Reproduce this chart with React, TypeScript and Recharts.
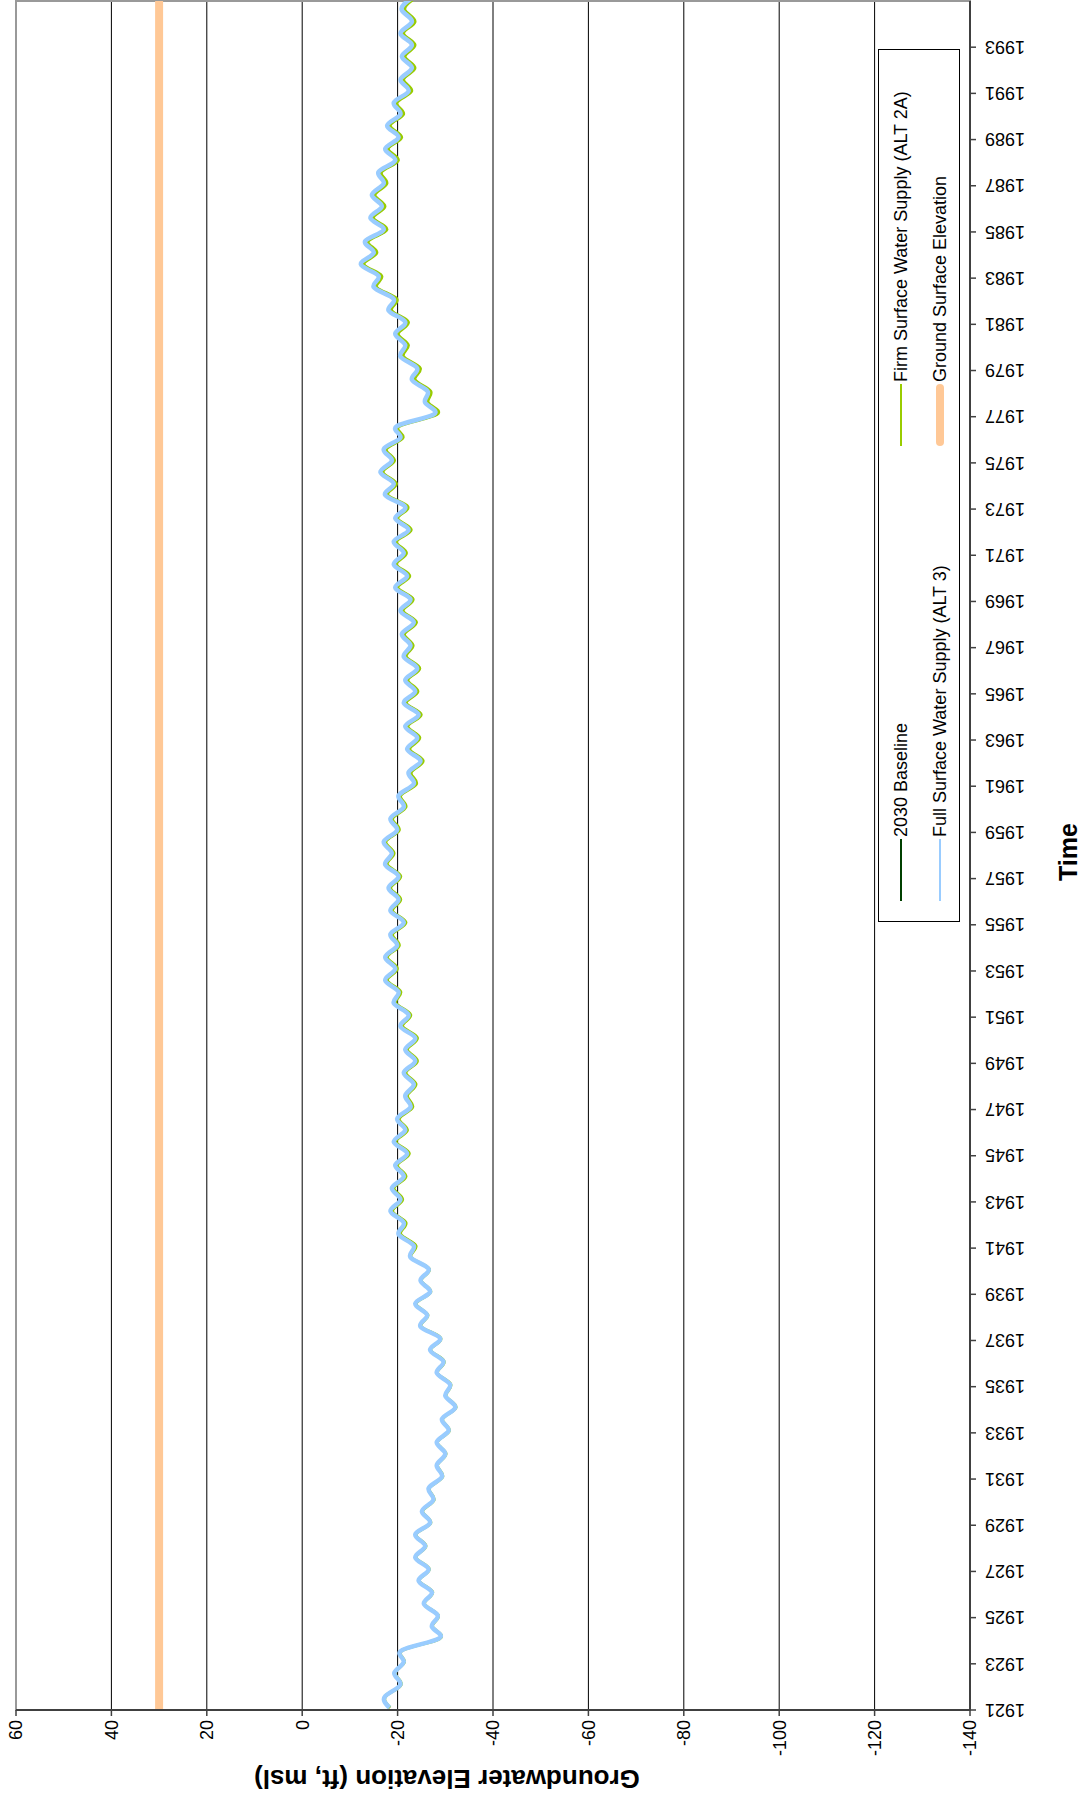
import { LineChart, Line, XAxis, YAxis, CartesianGrid, Legend, ReferenceArea } from 'recharts'

const FONT = '"Liberation Sans", Arial, sans-serif'

// water years, a fall low and a spring high each year
const years = Array.from({ length: 75 }, (_, i) => 1921 + i)
const LOW_AT = 0.1
const HIGH_AT = 0.6

const tickYears = [
  1921, 1923, 1925, 1927, 1929, 1931, 1933, 1935, 1937, 1939, 1941, 1943, 1945, 1947, 1949, 1951, 1953,
  1955, 1957, 1959, 1961, 1963, 1965, 1967, 1969, 1971, 1973, 1975, 1977, 1979, 1981, 1983, 1985, 1987,
  1989, 1991, 1993,
]
const elevationTicks = [60, 40, 20, 0, -20, -40, -60, -80, -100, -120, -140]
const groundSurface = 30

// Full Surface Water Supply (ALT 3)
const fullLow = [
  -18.3, -20.6, -21.3, -28.7, -28.4, -27.2, -26.5, -25.8, -26.8, -27.5,
  -29.3, -30.0, -30.7, -32.1, -31.0, -29.6, -28.9, -26.2, -26.8, -26.5,
  -23.4, -21.3, -20.6, -21.3, -22.0, -21.6, -22.7, -23.4, -23.7, -23.7,
  -22.3, -20.2, -19.5, -19.9, -21.3, -20.2, -20.2, -18.8, -19.9, -21.3,
  -23.4, -24.8, -24.1, -24.4, -23.7, -24.1, -22.7, -23.4, -22.7, -22.0,
  -21.3, -22.3, -21.6, -19.2, -18.8, -20.6, -27.6, -26.3, -24.1, -21.6,
  -21.6, -19.2, -16.0, -15.0, -17.1, -16.7, -17.1, -19.5, -20.2, -20.6,
  -22.3, -23.0, -23.0, -23.0, -22.8,
]
const fullHigh = [
  -17.4, -19.3, -21.0, -27.2, -25.5, -24.4, -23.7, -23.7, -25.1, -26.5,
  -28.2, -28.2, -29.3, -30.0, -28.2, -26.8, -24.8, -23.7, -24.8, -22.7,
  -20.2, -18.5, -18.8, -19.5, -19.2, -19.9, -21.6, -21.3, -21.6, -20.6,
  -19.2, -17.4, -17.4, -18.5, -18.5, -18.1, -17.4, -17.1, -18.5, -20.2,
  -22.3, -22.0, -21.6, -21.3, -21.6, -21.3, -20.9, -20.6, -19.5, -19.2,
  -19.2, -19.5, -17.4, -16.4, -17.1, -19.9, -25.8, -23.0, -20.6, -19.5,
  -18.1, -15.0, -12.3, -13.2, -14.3, -14.6, -16.0, -17.4, -17.8, -19.2,
  -20.6, -20.9, -20.6, -20.9,
]

// Firm Surface Water Supply (ALT 2A)
const firmLow = [
  -18.4, -20.7, -21.4, -28.8, -28.5, -27.3, -26.6, -25.9, -26.9, -27.6,
  -29.4, -30.1, -30.8, -32.2, -31.1, -29.7, -29.0, -26.3, -26.9, -26.6,
  -23.8, -21.7, -21.0, -21.7, -22.4, -22.0, -23.1, -23.8, -24.1, -24.1,
  -22.7, -20.6, -19.9, -20.3, -21.7, -20.6, -20.6, -19.2, -20.3, -21.7,
  -23.9, -25.3, -24.6, -24.9, -24.2, -24.6, -23.2, -23.9, -23.2, -22.5,
  -21.8, -22.8, -22.1, -19.7, -19.3, -21.1, -28.2, -26.9, -24.7, -22.2,
  -22.2, -19.8, -16.6, -15.6, -17.7, -17.3, -17.7, -20.1, -20.8, -21.2,
  -22.9, -23.6, -23.6, -23.6, -23.4,
]
const firmHigh = [
  -17.5, -19.4, -21.1, -27.3, -25.6, -24.5, -23.8, -23.8, -25.2, -26.6,
  -28.3, -28.3, -29.4, -30.1, -28.3, -26.9, -24.9, -23.8, -24.9, -22.8,
  -20.6, -18.9, -19.2, -19.9, -19.6, -20.3, -22.0, -21.7, -22.0, -21.0,
  -19.6, -17.8, -17.8, -18.9, -18.9, -18.5, -17.8, -17.5, -18.9, -20.6,
  -22.8, -22.5, -22.1, -21.8, -22.1, -21.8, -21.4, -21.1, -20.0, -19.7,
  -19.7, -20.0, -17.9, -16.9, -17.6, -20.4, -26.4, -23.6, -21.2, -20.1,
  -18.7, -15.6, -12.9, -13.8, -14.9, -15.2, -16.6, -18.0, -18.4, -19.8,
  -21.2, -21.5, -21.2, -21.5,
]

// 2030 Baseline sits under the ALT 2A line everywhere it can be seen
const baselineLow = firmLow
const baselineHigh = firmHigh

const rows: any[] = []
years.forEach((yr, i) => {
  rows.push({ t: yr + LOW_AT, base: baselineLow[i], firm: firmLow[i], full: fullLow[i] })
  if (i < fullHigh.length) {
    rows.push({ t: yr + HIGH_AT, base: baselineHigh[i], firm: firmHigh[i], full: fullHigh[i] })
  }
})
const groundRows = [
  { t: 1921, ground: groundSurface },
  { t: 1995, ground: groundSurface },
]

const seriesStyle: Record<string, { color: string; width: number; legendWidth: number }> = {
  base: { color: '#004000', width: 2, legendWidth: 2 },
  firm: { color: '#99CC00', width: 3.5, legendWidth: 2 },
  full: { color: '#99CCFF', width: 4.5, legendWidth: 2 },
  ground: { color: '#FFC896', width: 8, legendWidth: 8 },
}

function YearTick({ x, y, payload }: any) {
  return (
    <text
      x={x}
      y={y}
      transform={`rotate(-90 ${x} ${y})`}
      textAnchor="end"
      dy="0.35em"
      fontSize={18}
      fill="#000"
      fontFamily={FONT}
    >
      {payload.value}
    </text>
  )
}

function LegendBox({ payload }: any) {
  const items = payload || []
  return (
    <div style={{ position: 'relative', width: 871, height: 80, border: '1px solid #000', background: '#fff', fontFamily: FONT, fontSize: 18 }}>
      {items.map((item: any, i: number) => {
        const st = seriesStyle[item.dataKey]
        const col = i % 2
        const row = Math.floor(i / 2)
        return (
          <div
            key={item.dataKey}
            style={{ position: 'absolute', left: col === 0 ? 20 : 475, top: row === 0 ? 11 : 50, height: 22, display: 'flex', alignItems: 'center' }}
          >
            <div style={{ width: 62, height: st.legendWidth, background: st.color, borderRadius: st.legendWidth > 4 ? 4 : 0 }} />
            <span style={{ marginLeft: 2, color: '#000', whiteSpace: 'nowrap' }}>{item.value}</span>
          </div>
        )
      })}
    </div>
  )
}

export default function App() {
  return (
    <div style={{ position: 'absolute', left: 0, top: 0, width: 1086, height: 1797, overflow: 'hidden', background: '#fff' }}>
      <div
        style={{
          position: 'absolute',
          left: 0,
          top: 0,
          width: 1797,
          height: 1086,
          transformOrigin: '0 0',
          transform: 'translateY(1797px) rotate(-90deg)',
        }}
      >
        <LineChart width={1797} height={1086} data={rows} margin={{ top: 16, right: 1, bottom: 0, left: 0 }}>
          <CartesianGrid vertical={false} stroke="#000" strokeWidth={1} />
          <ReferenceArea x1={1921} x2={1995} y1={-140} y2={60} fill="none" stroke="#999" strokeWidth={2} />
          <XAxis
            dataKey="t"
            type="number"
            domain={[1921, 1995]}
            ticks={tickYears}
            allowDataOverflow
            height={116}
            tickSize={6}
            tickMargin={9}
            tick={<YearTick />}
            axisLine={{ stroke: '#404040', strokeWidth: 2 }}
            tickLine={{ stroke: '#404040', strokeWidth: 1.5 }}
            interval={0}
          />
          <YAxis
            type="number"
            domain={[-140, 60]}
            ticks={elevationTicks}
            width={87}
            tickSize={6}
            tickMargin={4}
            interval={0}
            tick={{ fontSize: 18, fill: '#000', fontFamily: FONT }}
            axisLine={{ stroke: '#404040', strokeWidth: 2 }}
            tickLine={{ stroke: '#404040', strokeWidth: 1.5 }}
          />
          <Legend
            layout="horizontal"
            verticalAlign="middle"
            align="center"
            content={<LegendBox />}
            wrapperStyle={{ left: 875, top: 878, width: 873, height: 82 }}
          />
          <Line name="2030 Baseline" dataKey="base" type="natural" stroke={seriesStyle.base.color} strokeWidth={seriesStyle.base.width} dot={false} isAnimationActive={false} />
          <Line name="Firm Surface Water Supply (ALT 2A)" dataKey="firm" type="natural" stroke={seriesStyle.firm.color} strokeWidth={seriesStyle.firm.width} dot={false} isAnimationActive={false} />
          <Line name="Full Surface Water Supply (ALT 3)" dataKey="full" type="natural" stroke={seriesStyle.full.color} strokeWidth={seriesStyle.full.width} dot={false} isAnimationActive={false} />
          <Line name="Ground Surface Elevation" data={groundRows} dataKey="ground" type="linear" stroke={seriesStyle.ground.color} strokeWidth={seriesStyle.ground.width} dot={false} isAnimationActive={false} />
        </LineChart>
        <svg width={1797} height={1086} style={{ position: 'absolute', left: 0, top: 0, pointerEvents: 'none' }}>
          <text x={18} y={447} transform="rotate(-90 18 447)" textAnchor="middle" dominantBaseline="central" fontSize={26} fontWeight="bold" fontFamily={FONT} fill="#000">
            Groundwater Elevation (ft, msl)
          </text>
          <text x={945} y={1068} textAnchor="middle" dominantBaseline="central" fontSize={25} fontWeight="bold" fontFamily={FONT} fill="#000">
            Time
          </text>
        </svg>
      </div>
    </div>
  )
}
